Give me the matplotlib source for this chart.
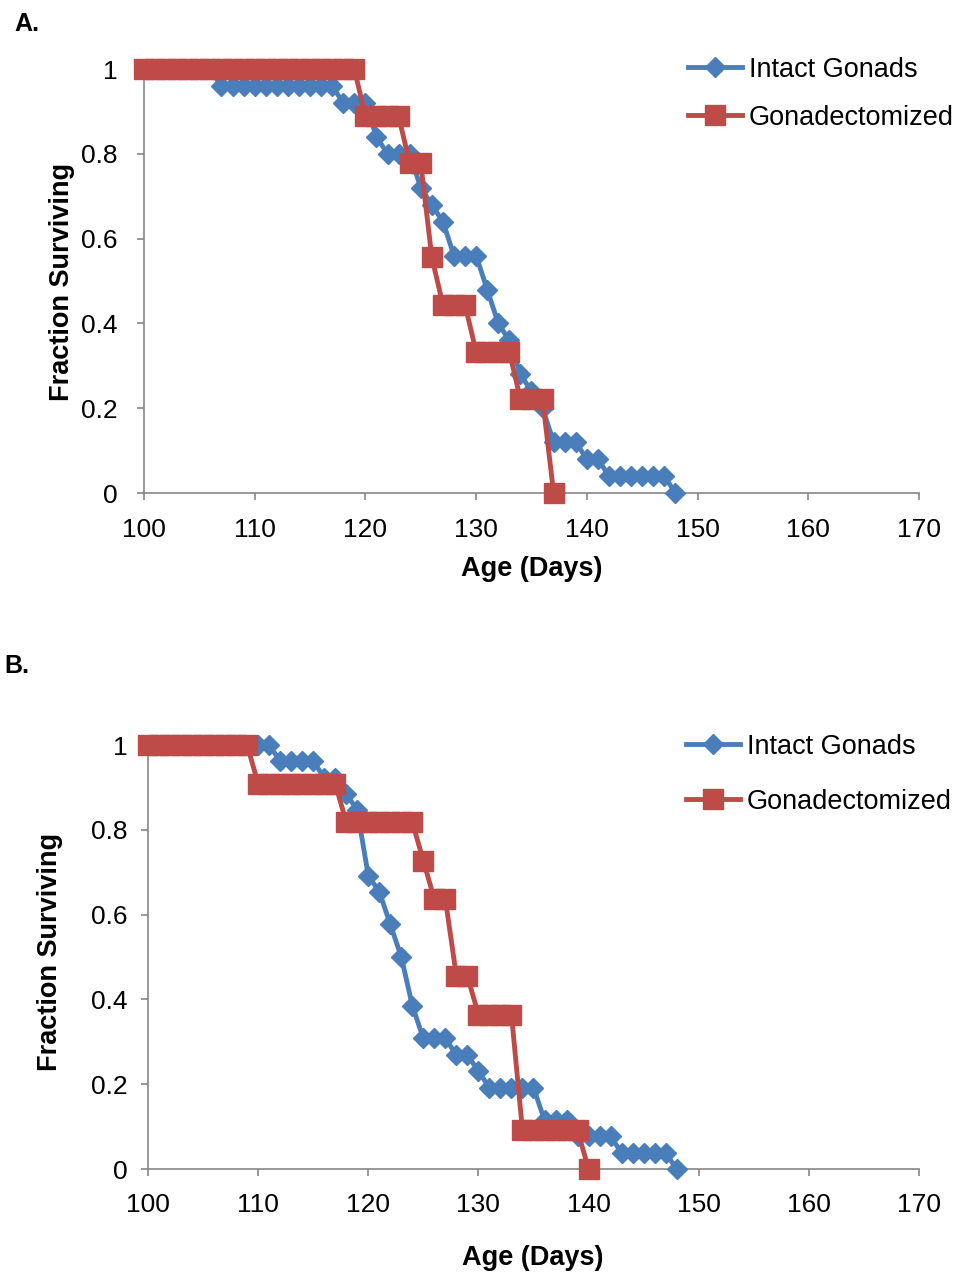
import matplotlib
matplotlib.use('Agg')
import matplotlib.pyplot as plt

plt.rcParams['font.family'] = ['Liberation Sans', 'DejaVu Sans']

# panel A
days_a_intact = list(range(100, 149))
surv_a_intact = ([1.0] * 7 + [0.96] * 11 + [0.92] * 3 + [0.84] + [0.80] * 3 + [0.72, 0.68, 0.64]
                 + [0.56] * 3 + [0.48, 0.40, 0.36, 0.28, 0.24, 0.20] + [0.12] * 3 + [0.08] * 2
                 + [0.04] * 6 + [0.0])
days_a_gdx = list(range(100, 138))
surv_a_gdx = ([1.0] * 20 + [0.889] * 4 + [0.778] * 2 + [0.556] + [0.444] * 3 + [0.333] * 4
              + [0.222] * 3 + [0.0])

# panel B
days_b_intact = list(range(100, 149))
surv_b_intact = ([1.0] * 12 + [0.962] * 4 + [0.923] * 2 + [0.885, 0.846, 0.692, 0.654, 0.577, 0.5, 0.385]
                 + [0.308] * 3 + [0.269] * 2 + [0.231] + [0.192] * 5 + [0.115] * 3 + [0.077] * 4
                 + [0.038] * 5 + [0.0])
days_b_gdx = list(range(100, 141))
surv_b_gdx = ([1.0] * 10 + [0.909] * 8 + [0.818] * 7 + [0.727] + [0.636] * 2 + [0.455] * 2
              + [0.364] * 4 + [0.0909] * 6 + [0.0])

blue = '#4A7EBB'
red = '#BE4B48'
grey = '#868686'

fig = plt.figure(figsize=(9.61, 12.74), dpi=100)


def make_panel(rect, d1, s1, d2, s2, ypad, xpad):
  ax = fig.add_axes(rect)
  ax.plot(d1, s1, color=blue, lw=3.5, marker='D', ms=10, mfc=blue, mec=blue,
          clip_on=False, zorder=3, label='Intact Gonads')
  ax.plot(d2, s2, color=red, lw=3.5, marker='s', ms=14.5, mfc=red, mec=red,
          clip_on=False, zorder=4, label='Gonadectomized')
  ax.set_xlim(100, 170)
  ax.set_ylim(0, 1)
  ax.set_xticks(range(100, 171, 10))
  ax.set_yticks([0, 0.2, 0.4, 0.6, 0.8, 1])
  ax.set_yticklabels(['0', '0.2', '0.4', '0.6', '0.8', '1'])
  for s in ['top', 'right']:
    ax.spines[s].set_visible(False)
  for s in ['left', 'bottom']:
    ax.spines[s].set_color(grey)
    ax.spines[s].set_linewidth(1.2)
  ax.tick_params(axis='both', direction='out', length=5, width=1.2, color=grey, labelsize=19)
  ax.tick_params(axis='y', pad=ypad)
  ax.tick_params(axis='x', pad=xpad)
  return ax


# A
axa = make_panel([0.1498, 0.6130, 0.8065, 0.3328], days_a_intact, surv_a_intact,
                 days_a_gdx, surv_a_gdx, 14, 13)
axa.set_xlabel('Age (Days)', fontsize=19.5, fontweight='bold', va='center')
axa.xaxis.set_label_coords(0.5, -0.18)
axa.set_ylabel('Fraction Surviving', fontsize=19.5, fontweight='bold', va='center')
axa.yaxis.set_label_coords(-0.106, 0.498)
axa.legend(loc='upper left', bbox_to_anchor=(0.716, 0.9555), bbox_transform=fig.transFigure,
           frameon=False, borderpad=0, borderaxespad=0, handlelength=2.0, handletextpad=0.25,
           labelspacing=0.81, fontsize=19.5)

# B
axb = make_panel([0.154, 0.0824, 0.8023, 0.3328], days_b_intact, surv_b_intact,
                 days_b_gdx, surv_b_gdx, 10, 12)
axb.set_xlabel('Age (Days)', fontsize=19.5, fontweight='bold', va='center')
axb.xaxis.set_label_coords(0.499, -0.21)
axb.set_ylabel('Fraction Surviving', fontsize=19.5, fontweight='bold', va='center')
axb.yaxis.set_label_coords(-0.127, 0.512)
axb.legend(loc='upper left', bbox_to_anchor=(0.714, 0.424), bbox_transform=fig.transFigure,
           frameon=False, borderpad=0, borderaxespad=0, handlelength=2.0, handletextpad=0.25,
           labelspacing=1.07, fontsize=19.5)

fig.text(27 / 961, 1 - 24 / 1274, 'A.', fontsize=18, fontweight='bold', ha='center', va='center')
fig.text(17 / 961, 1 - 666 / 1274, 'B.', fontsize=18, fontweight='bold', ha='center', va='center')

fig.savefig('out.png', dpi=100)
